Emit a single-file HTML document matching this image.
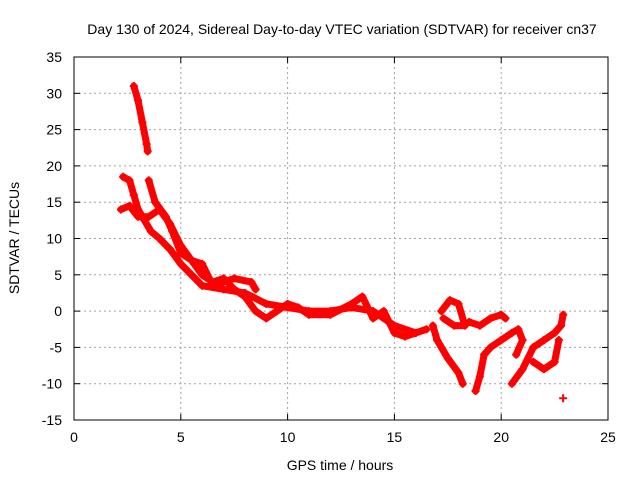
<!DOCTYPE html>
<html><head><meta charset="utf-8"><style>
body{margin:0;background:#fff;}
svg text{font-family:"Liberation Sans",sans-serif;font-size:14px;fill:#000;}
</style></head><body>
<svg id="chart" width="640" height="480" xmlns="http://www.w3.org/2000/svg">
<text x="342" y="34" text-anchor="middle">Day 130 of 2024, Sidereal Day-to-day VTEC variation (SDTVAR) for receiver cn37</text>
<g id="grid"></g>
<g id="axes"></g>
<g id="series"></g>
<text x="340" y="470" text-anchor="middle">GPS time / hours</text>
<text transform="translate(19,238) rotate(-90)" text-anchor="middle">SDTVAR / TECUs</text>
</svg>
<script>
const xTicks=[0,5,10,15,20,25];
const yTicks=[35,30,25,20,15,10,5,0,-5,-10,-15];
const trackA_t=[2.8,3.0,3.2,3.4,3.45];
const trackA_v=[31,29,26,23,22];
const trackB_t=[2.3,2.6,2.8,3.0,3.3,3.6,4.0,4.5,5.0,5.5,6,7,8,9,10,11,12,13,14,15,16,16.5];
const trackB_v=[18.5,18,16,14,12.5,11,10,8.5,6.5,5,3.5,3,2.5,1,0.5,0,0,0.5,0,-2,-3,-2.5];
const trackC_t=[2.2,2.6,3,3.5,4,4.5,5,5.5,6,6.5,7,7.5,8,8.5,9,9.5,10,10.5,11,12,13,13.5,14,14.5,15,15.5,16];
const trackC_v=[14,14.5,13,13,14,12,9,7,5,4,4.5,3,2,0,-1,0,1,0.5,-0.5,-0.5,1,2,-1,0,-3,-3.5,-3];
const trackD_t=[3.5,3.8,4.3,4.6,5,5.5,6,6.5,7.5,8.3,8.5];
const trackD_v=[18,15,13,11,8,7,6.5,3.5,4.5,4,3];
const trackE_t=[16.8,17,17.5,18,18.2];
const trackE_v=[-2,-4,-6.5,-8.5,-10];
const trackF_t=[17.2,17.6,18,18.3,17.8,17.3];
const trackF_v=[0,1.5,1,-2,-2,-1];
const trackG_t=[18.5,19,19.5,20,20.2];
const trackG_v=[-1.5,-2,-1,-0.5,-1];
const trackH_t=[18.8,19,19.2,19.5,20,20.5,20.8,21,20.7];
const trackH_v=[-11,-9,-6,-5,-4,-3,-2.5,-4,-6];
const trackI_t=[20.5,21,21.5,22,22.5,22.8,22.9];
const trackI_v=[-10,-8,-5,-4,-3,-2,-0.5];
const trackJ_t=[21.5,22,22.5,22.7];
const trackJ_v=[-7,-8,-7,-4];
const trackK_t=[22.9];
const trackK_v=[-12];
const tracks=[[trackA_t,trackA_v],[trackB_t,trackB_v],[trackC_t,trackC_v],[trackD_t,trackD_v],[trackE_t,trackE_v],[trackF_t,trackF_v],[trackG_t,trackG_v],[trackH_t,trackH_v],[trackI_t,trackI_v],[trackJ_t,trackJ_v],[trackK_t,trackK_v]];
const L=74,R=608,T=57,B=420;
function X(t){return L+(t-0)/(25-0)*(R-L);}
function Y(v){return B-(v+15)/(50)*(B-T);}
const NS="http://www.w3.org/2000/svg";
function mk(tag,attrs,parent){const e=document.createElementNS(NS,tag);for(const k in attrs)e.setAttribute(k,attrs[k]);parent.appendChild(e);return e;}
const grid=document.getElementById('grid'),axes=document.getElementById('axes'),ser=document.getElementById('series');
xTicks.forEach(t=>{
 const x=X(t);
 if(t>0&&t<25){const g=mk('line',{x1:x,x2:x,y1:T,y2:B,stroke:'#a0a0a0','stroke-dasharray':'2,3','stroke-width':1},grid);}
 mk('line',{x1:x,x2:x,y1:B,y2:B-6,stroke:'#000'},axes);mk('line',{x1:x,x2:x,y1:T,y2:T+6,stroke:'#000'},axes);
 const tx=mk('text',{x:x,y:B+22,'text-anchor':'middle'},axes);tx.textContent=t;
 
});
yTicks.forEach(v=>{
 const y=Y(v);
 if(v>-15&&v<35){const g=mk('line',{x1:L,x2:R,y1:y,y2:y,stroke:'#a0a0a0','stroke-dasharray':'2,3','stroke-width':1},grid);}
 mk('line',{x1:L,x2:L+6,y1:y,y2:y,stroke:'#000'},axes);mk('line',{x1:R,x2:R-6,y1:y,y2:y,stroke:'#000'},axes);
 const tx=mk('text',{x:L-12,y:y+5,'text-anchor':'end'},axes);tx.textContent=v;
 
});
const fr=mk('rect',{x:L,y:T,width:R-L,height:B-T,fill:'none',stroke:'#000'},axes);

tracks.forEach(([ts,vs])=>{
 const pts=ts.map((t,i)=>X(t)+','+Y(vs[i])).join(' ');
 const pl=mk('polyline',{points:pts,fill:'none',stroke:'#ff0000','stroke-width':7,'stroke-linejoin':'round','stroke-linecap':'round'},ser);
 
 ts.forEach((t,i)=>{const x=X(t),y=Y(vs[i]);
  const p=mk('path',{d:`M${x-4},${y}H${x+4}M${x},${y-4}V${y+4}`,stroke:'#ff0000','stroke-width':2},ser);
  });
});
</script>
</body></html>
